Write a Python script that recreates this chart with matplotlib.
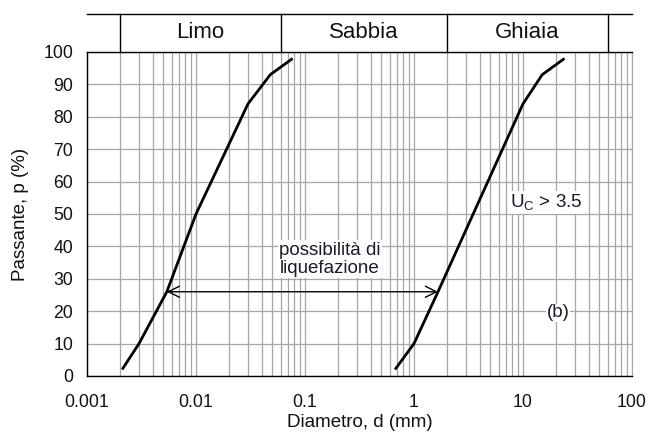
import matplotlib
matplotlib.use("Agg")
import matplotlib.pyplot as plt
from matplotlib.ticker import FixedLocator, LogLocator, NullFormatter
import matplotlib.transforms as mtransforms
import numpy as np

plt.rcParams['font.family'] = ['Liberation Sans', 'DejaVu Sans']

# Data
curve_fine_d = [0.0021, 0.003, 0.0054, 0.01, 0.03, 0.048, 0.077]
curve_fine_p = [2, 10, 26, 50, 84, 93, 98]
curve_coarse_d = [0.67, 1.0, 1.66, 10, 15, 24]
curve_coarse_p = [2, 10, 26, 84, 93, 98]
arrow_d = [0.0054, 1.66]
arrow_p = 26
zone_labels = ["Limo", "Sabbia", "Ghiaia"]
zone_bounds = [0.002, 0.06, 2, 60]
x_ticks = [0.001, 0.01, 0.1, 1, 10, 100]
x_ticklabels = ["0.001", "0.01", "0.1", "1", "10", "100"]
y_ticks = list(range(0, 101, 10))

txt_color = '#1a1a2a'

fig = plt.figure(figsize=(6.5, 4.32), dpi=100)
ax = fig.add_axes([87/650, 1-376/432, (632-87)/650, (376-52)/432])
ax.set_xscale('log')
ax.set_xlim(0.001, 100)
ax.set_ylim(0, 100)

ax.xaxis.set_major_locator(FixedLocator(x_ticks))
ax.set_xticklabels(x_ticklabels)
ax.xaxis.set_minor_locator(LogLocator(base=10, subs=range(2, 10), numticks=20))
ax.xaxis.set_minor_formatter(NullFormatter())
ax.set_yticks(y_ticks)
ax.grid(True, which='both', axis='x', color='#a6a6a6', lw=0.9)
ax.grid(True, which='major', axis='y', color='#a6a6a6', lw=0.9)
ax.set_axisbelow(True)
ax.tick_params(which='both', length=0, labelsize=12.7, colors='#111111')
ax.tick_params(axis='x', pad=13)
ax.tick_params(axis='y', pad=10)
for s in ['left', 'bottom', 'top']:
    ax.spines[s].set_color('black')
    ax.spines[s].set_linewidth(1.0)
ax.spines['right'].set_color('#a6a6a6')

ax.plot(curve_fine_d, curve_fine_p, color='black', lw=2, solid_capstyle='butt')
ax.plot(curve_coarse_d, curve_coarse_p, color='black', lw=2, solid_capstyle='butt')

ax.annotate('', xy=(arrow_d[0], arrow_p), xytext=(arrow_d[1], arrow_p),
            arrowprops=dict(arrowstyle='<->', color='black', lw=1.0,
                            mutation_scale=20, shrinkA=0, shrinkB=0))

ax.text(0.17, 36, "possibilità di\nliquefazione", ha='center', va='center',
        fontsize=13.5, color=txt_color, linespacing=1.12,
        bbox=dict(facecolor='white', edgecolor='none', pad=1))
ax.text(16.5, 53.5, r"U$_\mathregular{C}$ > 3.5", ha='center', va='center',
        fontsize=13.5, color=txt_color,
        bbox=dict(facecolor='white', edgecolor='none', pad=1))
ax.text(21, 19.5, "(b)", ha='center', va='center', fontsize=13.5, color=txt_color,
        bbox=dict(facecolor='white', edgecolor='none', pad=0.5))

ax.set_xlabel("Diametro, d (mm)", fontsize=13.5, labelpad=2, color='#111111')
ax.set_ylabel("Passante, p (%)", fontsize=13.5, labelpad=10, color='#111111')

# Header band with soil classes
trans = mtransforms.blended_transform_factory(ax.transData, ax.transAxes)
top = 1 + 38/324
ax.plot([0.001, 100], [top, top], color='black', lw=1.0, transform=trans, clip_on=False)
for b in zone_bounds:
    ax.plot([b, b], [1, top], color='black', lw=1.0, transform=trans, clip_on=False)
for i, lab in enumerate(zone_labels):
    xc = np.sqrt(zone_bounds[i] * zone_bounds[i+1])
    ax.text(xc, (1 + top)/2, lab, ha='center', va='center', fontsize=16,
            color='#111111', transform=trans)

fig.savefig("out.png", dpi=100)
